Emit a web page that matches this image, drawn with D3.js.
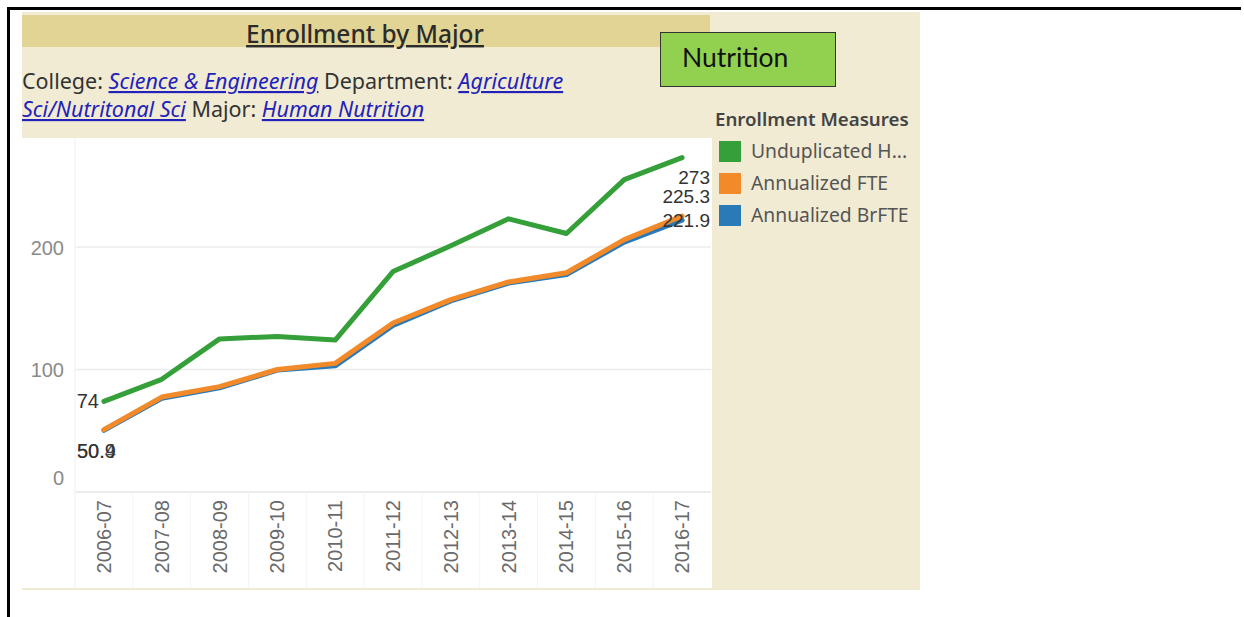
<!DOCTYPE html>
<html><head><meta charset="utf-8">
<script src="https://cdn.jsdelivr.net/npm/d3@7"></script>
<style>body{margin:0;background:#fff;}svg{display:block;}</style>
</head><body>
<script>
const years = ["2006-07","2007-08","2008-09","2009-10","2010-11","2011-12","2012-13","2013-14","2014-15","2015-16","2016-17"];
const unduplicated = [74, 92, 125, 127, 124, 180, 201, 223, 211, 255, 273];
const annualizedFTE = [50.9, 77.5, 86, 100, 105, 138, 157, 171.5, 179, 206, 225.3];
const annualizedBrFTE = [50.4, 76.5, 85, 99.5, 103, 136, 156, 170.5, 177.5, 204, 221.9];
const yTicks = [0, 100, 200];
const seriesNames = ["Unduplicated H...", "Annualized FTE", "Annualized BrFTE"];
const seriesColors = ["#35a03a", "#f28a2a", "#2a7ab8"];

const W = 1244, H = 617;
const svg = d3.select("body").append("svg").attr("width", W).attr("height", H);
const font = "'Noto Sans', 'Open Sans', sans-serif";
const numFont = "'Liberation Sans', Arial, sans-serif";

// outer frame lines
svg.append("line").attr("x1", 7).attr("x2", 1241).attr("y1", 8.5).attr("y2", 8.5).attr("stroke", "#000").attr("stroke-width", 3);
svg.append("line").attr("x1", 8.5).attr("x2", 8.5).attr("y1", 7).attr("y2", 617).attr("stroke", "#000").attr("stroke-width", 3);

// beige panel
svg.append("rect").attr("x", 22).attr("y", 12).attr("width", 898).attr("height", 578).attr("fill", "#f1ebd4");
// title band
svg.append("rect").attr("x", 22).attr("y", 15).attr("width", 688).attr("height", 32).attr("fill", "#e1d495");
svg.append("text").attr("x", 365).attr("y", 43).attr("text-anchor", "middle")
  .attr("font-family", font).attr("font-size", 24.5).attr("font-weight", 500).attr("fill", "#2b2b2b")
  .attr("text-decoration", "underline").text("Enrollment by Major");

// subtitle
const sub = [
  [["College: ", false], ["Science & Engineering", true], [" Department: ", false], ["Agriculture", true]],
  [["Sci/Nutritonal Sci", true], [" Major: ", false], ["Human Nutrition", true]]
];
sub.forEach((line, i) => {
  const t = svg.append("text").attr("x", 22).attr("y", 89 + i * 28).attr("font-family", font).attr("font-size", 21.5);
  line.forEach(([s, link]) => {
    const ts = t.append("tspan").text(s);
    if (link) ts.attr("fill", "#2222bb").attr("font-style", "italic").attr("text-decoration", "underline");
    else ts.attr("fill", "#333");
  });
});

// Nutrition box
svg.append("rect").attr("x", 660.5).attr("y", 32.5).attr("width", 175).attr("height", 54).attr("fill", "#92d050").attr("stroke", "#333").attr("stroke-width", 1);
svg.append("text").attr("x", 682).attr("y", 67).attr("font-family", "Lato, 'Open Sans', sans-serif").attr("font-size", 26.5).attr("fill", "#111").text("Nutrition");

// plot white area
svg.append("rect").attr("x", 22).attr("y", 138).attr("width", 690).attr("height", 450).attr("fill", "#fff");

const x = d3.scaleBand().domain(years).range([75, 711]);
const y = d3.scaleLinear().domain([0, 289]).range([492, 138]);
const cx = d => x(d) + x.bandwidth() / 2;

// gridlines
svg.append("g").selectAll("line").data(yTicks.filter(d => d > 0)).join("line")
  .attr("x1", 75).attr("x2", 711).attr("y1", d => y(d)).attr("y2", d => y(d))
  .attr("stroke", "#ececec").attr("stroke-width", 1.5);
svg.append("line").attr("x1", 75).attr("x2", 711).attr("y1", y(0)).attr("y2", y(0)).attr("stroke", "#e6e6e6").attr("stroke-width", 1.5);
svg.append("line").attr("x1", 75).attr("x2", 75).attr("y1", 138).attr("y2", 588).attr("stroke", "#f0f0f0").attr("stroke-width", 1);
// x axis band separators
svg.append("g").selectAll("line").data(years.slice(1)).join("line")
  .attr("x1", d => x(d)).attr("x2", d => x(d)).attr("y1", y(0)).attr("y2", 588)
  .attr("stroke", "#f4f4f4").attr("stroke-width", 1);

// y axis labels
const yAxis = d3.axisLeft(y).tickValues(yTicks).tickSize(0).tickPadding(0);
const yg = svg.append("g").attr("transform", "translate(64,0)").call(yAxis);
yg.select(".domain").remove();
yg.selectAll("text").attr("font-family", numFont).attr("font-size", 20).attr("fill", "#8a8a8a")
  .attr("dy", "0.35em")
  .attr("y", d => d === 0 ? -15 : 0);

// x axis labels
const xAxis = d3.axisBottom(x).tickSize(0).tickPadding(0);
const xg = svg.append("g").attr("transform", `translate(0,${y(0)})`).call(xAxis);
xg.select(".domain").remove();
xg.selectAll("text").attr("font-family", numFont).attr("font-size", 20).attr("fill", "#6a6a6a")
  .attr("transform", "rotate(-90)").attr("text-anchor", "end").attr("x", -8).attr("y", 0).attr("dy", "0.35em");

// lines (blue, orange, green order)
const line = d3.line().x((d, i) => cx(years[i])).y(d => y(d));
const data = [unduplicated, annualizedFTE, annualizedBrFTE];
[2, 1, 0].forEach(k => {
  svg.append("path").datum(data[k]).attr("d", line).attr("fill", "none")
    .attr("stroke", seriesColors[k]).attr("stroke-width", 5).attr("stroke-linejoin", "round").attr("stroke-linecap", "round");
});

// labels
const lab = (txt, xx, yy, anchor, fs) => svg.append("text").attr("x", xx).attr("y", yy).attr("text-anchor", anchor)
  .attr("font-family", numFont).attr("font-size", fs || 20).attr("fill", "#333").text(txt);
const last = years.length - 1;
lab(String(unduplicated[last]), 710, 184, "end", 19);
lab(String(annualizedFTE[last]), 710, 203, "end", 19);
lab(String(annualizedBrFTE[last]), 710, 227, "end", 19);
lab(String(unduplicated[0]), 99, 408, "end");
lab(String(annualizedFTE[0]), 77, 458, "start");
lab(String(annualizedBrFTE[0]), 77, 458, "start").attr("opacity", 0.85);

// legend
svg.append("text").attr("x", 715).attr("y", 126).attr("font-family", font).attr("font-size", 18.7).attr("font-weight", 600).attr("fill", "#444").text("Enrollment Measures");
seriesNames.forEach((n, i) => {
  svg.append("rect").attr("x", 719).attr("y", 141 + i * 32).attr("width", 22).attr("height", 21).attr("fill", seriesColors[i]);
  svg.append("text").attr("x", 751).attr("y", 158 + i * 32).attr("font-family", font).attr("font-size", 19.3).attr("fill", "#555").text(n);
});
</script>
</body></html>
